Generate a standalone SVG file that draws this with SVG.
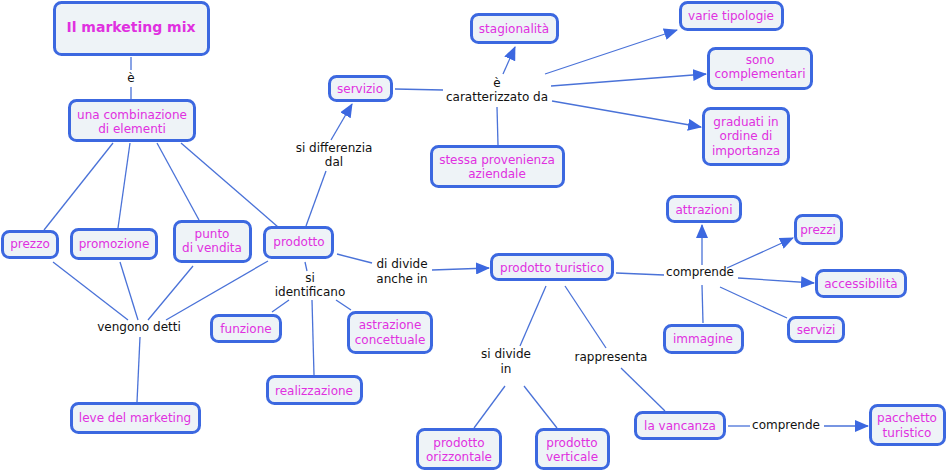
<svg xmlns="http://www.w3.org/2000/svg" width="949" height="474" viewBox="0 0 949 474">
<style>
.n rect{fill:#eef3f7;stroke:#3c68e0;stroke-width:3}
.n text{font-family:"DejaVu Sans",Verdana,sans-serif;font-size:12px;fill:#e030e0;text-anchor:middle}
.n text.t{font-size:14px;font-weight:bold}
.c line{stroke:#4a72d8;stroke-width:1.3;fill:none}
.c line.a{marker-end:url(#ah)}
.l{font-family:"DejaVu Sans",Verdana,sans-serif;font-size:12px;fill:#111;text-anchor:middle}
</style>
<defs>
<marker id="ah" markerUnits="userSpaceOnUse" markerWidth="14" markerHeight="12" refX="13" refY="6" orient="auto">
<path d="M0,0 L14,6 L0,12 z" fill="#3c68e0"/>
</marker>
</defs>
<rect width="949" height="474" fill="#fff"/>
<g class="c">
<line x1="131" y1="57" x2="131" y2="70"/>
<line x1="131" y1="87" x2="131" y2="99"/>
<line x1="113" y1="143" x2="44" y2="230"/>
<line x1="130" y1="143" x2="118" y2="228"/>
<line x1="157" y1="143" x2="199" y2="220"/>
<line x1="181" y1="143" x2="278" y2="227"/>
<line x1="53" y1="262" x2="128" y2="320"/>
<line x1="120" y1="262" x2="138" y2="320"/>
<line x1="193" y1="266" x2="148" y2="320"/>
<line x1="268" y1="261" x2="166" y2="320"/>
<line x1="140" y1="337" x2="137" y2="402"/>
<line x1="306" y1="226" x2="326" y2="171"/>
<line class="a" x1="331" y1="140" x2="352" y2="104"/>
<line x1="395" y1="89" x2="443" y2="90"/>
<line class="a" x1="503" y1="74" x2="515" y2="47"/>
<line class="a" x1="545" y1="74" x2="677" y2="30"/>
<line class="a" x1="551" y1="86" x2="706" y2="74"/>
<line class="a" x1="552" y1="101" x2="701" y2="127"/>
<line x1="498" y1="145" x2="497" y2="107"/>
<line x1="337" y1="254" x2="372" y2="263"/>
<line class="a" x1="432" y1="270" x2="489" y2="268"/>
<line x1="305" y1="262" x2="307" y2="271"/>
<line x1="289" y1="300" x2="272" y2="312"/>
<line x1="312" y1="300" x2="314" y2="375"/>
<line x1="336" y1="300" x2="351" y2="310"/>
<line x1="616" y1="273" x2="664" y2="275"/>
<line class="a" x1="702" y1="265" x2="702" y2="225"/>
<line class="a" x1="727" y1="268" x2="793" y2="238"/>
<line class="a" x1="738" y1="278" x2="814" y2="283"/>
<line x1="720" y1="287" x2="787" y2="318"/>
<line x1="702" y1="285" x2="703" y2="323"/>
<line x1="546" y1="286" x2="520" y2="346"/>
<line x1="565" y1="286" x2="606" y2="348"/>
<line x1="505" y1="386" x2="474" y2="428"/>
<line x1="524" y1="386" x2="557" y2="428"/>
<line x1="621" y1="368" x2="665" y2="411"/>
<line x1="728" y1="426" x2="750" y2="426"/>
<line class="a" x1="824" y1="426" x2="868" y2="426"/>
</g>
<g id="lbl">
<text class="l" x="131" y="82">è</text>
<text class="l" x="334" y="152">si differenzia</text>
<text class="l" x="334" y="166">dal</text>
<text class="l" x="497" y="87">è</text>
<text class="l" x="497" y="101">caratterizzato da</text>
<text class="l" x="310" y="282">si</text>
<text class="l" x="310" y="296">identificano</text>
<text class="l" x="402" y="268">di divide</text>
<text class="l" x="402" y="283">anche in</text>
<text class="l" x="139" y="331">vengono detti</text>
<text class="l" x="700" y="276">comprende</text>
<text class="l" x="506" y="358">si divide</text>
<text class="l" x="506" y="373">in</text>
<text class="l" x="611" y="361">rappresenta</text>
<text class="l" x="786" y="429">comprende</text>
</g>
<g id="n1" class="n"><rect x="54.5" y="2.5" width="154" height="52" rx="7"/><text class="t" x="131" y="32">Il marketing mix</text></g>
<g id="n2" class="n"><rect x="69.5" y="100.5" width="125" height="40" rx="7"/><text x="132" y="119">una combinazione</text><text x="132" y="133">di elementi</text></g>
<g id="n3" class="n"><rect x="2.5" y="231.5" width="55" height="26" rx="7"/><text x="30" y="248">prezzo</text></g>
<g id="n4" class="n"><rect x="71.5" y="229.5" width="85" height="29" rx="7"/><text x="114" y="248">promozione</text></g>
<g id="n5" class="n"><rect x="174.5" y="221.5" width="76" height="40" rx="7"/><text x="212" y="238">punto</text><text x="212" y="252">di vendita</text></g>
<g id="n6" class="n"><rect x="264.5" y="227.5" width="68" height="30" rx="7"/><text x="299" y="246">prodotto</text></g>
<g id="n7" class="n"><rect x="329.5" y="76.5" width="62" height="24" rx="7"/><text x="360" y="93">servizio</text></g>
<g id="n8" class="n"><rect x="471.5" y="14.5" width="86" height="28" rx="7"/><text x="514" y="33">stagionalità</text></g>
<g id="n9" class="n"><rect x="680.5" y="2.5" width="102" height="27" rx="7"/><text x="731" y="20">varie tipologie</text></g>
<g id="n10" class="n"><rect x="708.5" y="48.5" width="103" height="40" rx="7"/><text x="760" y="64">sono</text><text x="760" y="78">complementari</text></g>
<g id="n11" class="n"><rect x="703.5" y="108.5" width="85" height="56" rx="7"/><text x="746" y="126">graduati in</text><text x="746" y="140">ordine di</text><text x="746" y="155">importanza</text></g>
<g id="n12" class="n"><rect x="431.5" y="146.5" width="132" height="40" rx="7"/><text x="497" y="164">stessa provenienza</text><text x="497" y="178">aziendale</text></g>
<g id="n13" class="n"><rect x="667.5" y="196.5" width="73" height="25" rx="7"/><text x="704" y="214">attrazioni</text></g>
<g id="n14" class="n"><rect x="795.5" y="215.5" width="46" height="28" rx="7"/><text x="818" y="234">prezzi</text></g>
<g id="n15" class="n"><rect x="816.5" y="270.5" width="89" height="26" rx="7"/><text x="861" y="288">accessibilità</text></g>
<g id="n16" class="n"><rect x="788.5" y="317.5" width="55" height="24" rx="7"/><text x="816" y="334">servizi</text></g>
<g id="n17" class="n"><rect x="664.5" y="325.5" width="78" height="27" rx="7"/><text x="703" y="343">immagine</text></g>
<g id="n18" class="n"><rect x="491.5" y="254.5" width="121" height="25" rx="7"/><text x="552" y="272">prodotto turistico</text></g>
<g id="n19" class="n"><rect x="211.5" y="315.5" width="69" height="26" rx="7"/><text x="246" y="333">funzione</text></g>
<g id="n20" class="n"><rect x="348.5" y="312.5" width="83" height="40" rx="7"/><text x="390" y="329">astrazione</text><text x="390" y="344">concettuale</text></g>
<g id="n21" class="n"><rect x="267.5" y="376.5" width="94" height="27" rx="7"/><text x="314" y="395">realizzazione</text></g>
<g id="n22" class="n"><rect x="71.5" y="403.5" width="128" height="29" rx="7"/><text x="135" y="422">leve del marketing</text></g>
<g id="n23" class="n"><rect x="417.5" y="429.5" width="83" height="39" rx="7"/><text x="459" y="447">prodotto</text><text x="459" y="461">orizzontale</text></g>
<g id="n24" class="n"><rect x="536.5" y="429.5" width="72" height="39" rx="7"/><text x="572" y="447">prodotto</text><text x="572" y="461">verticale</text></g>
<g id="n25" class="n"><rect x="635.5" y="412.5" width="89" height="26" rx="7"/><text x="680" y="430">la vancanza</text></g>
<g id="n26" class="n"><rect x="870.5" y="405.5" width="74" height="39" rx="7"/><text x="907" y="422">pacchetto</text><text x="907" y="437">turistico</text></g>
</svg>
